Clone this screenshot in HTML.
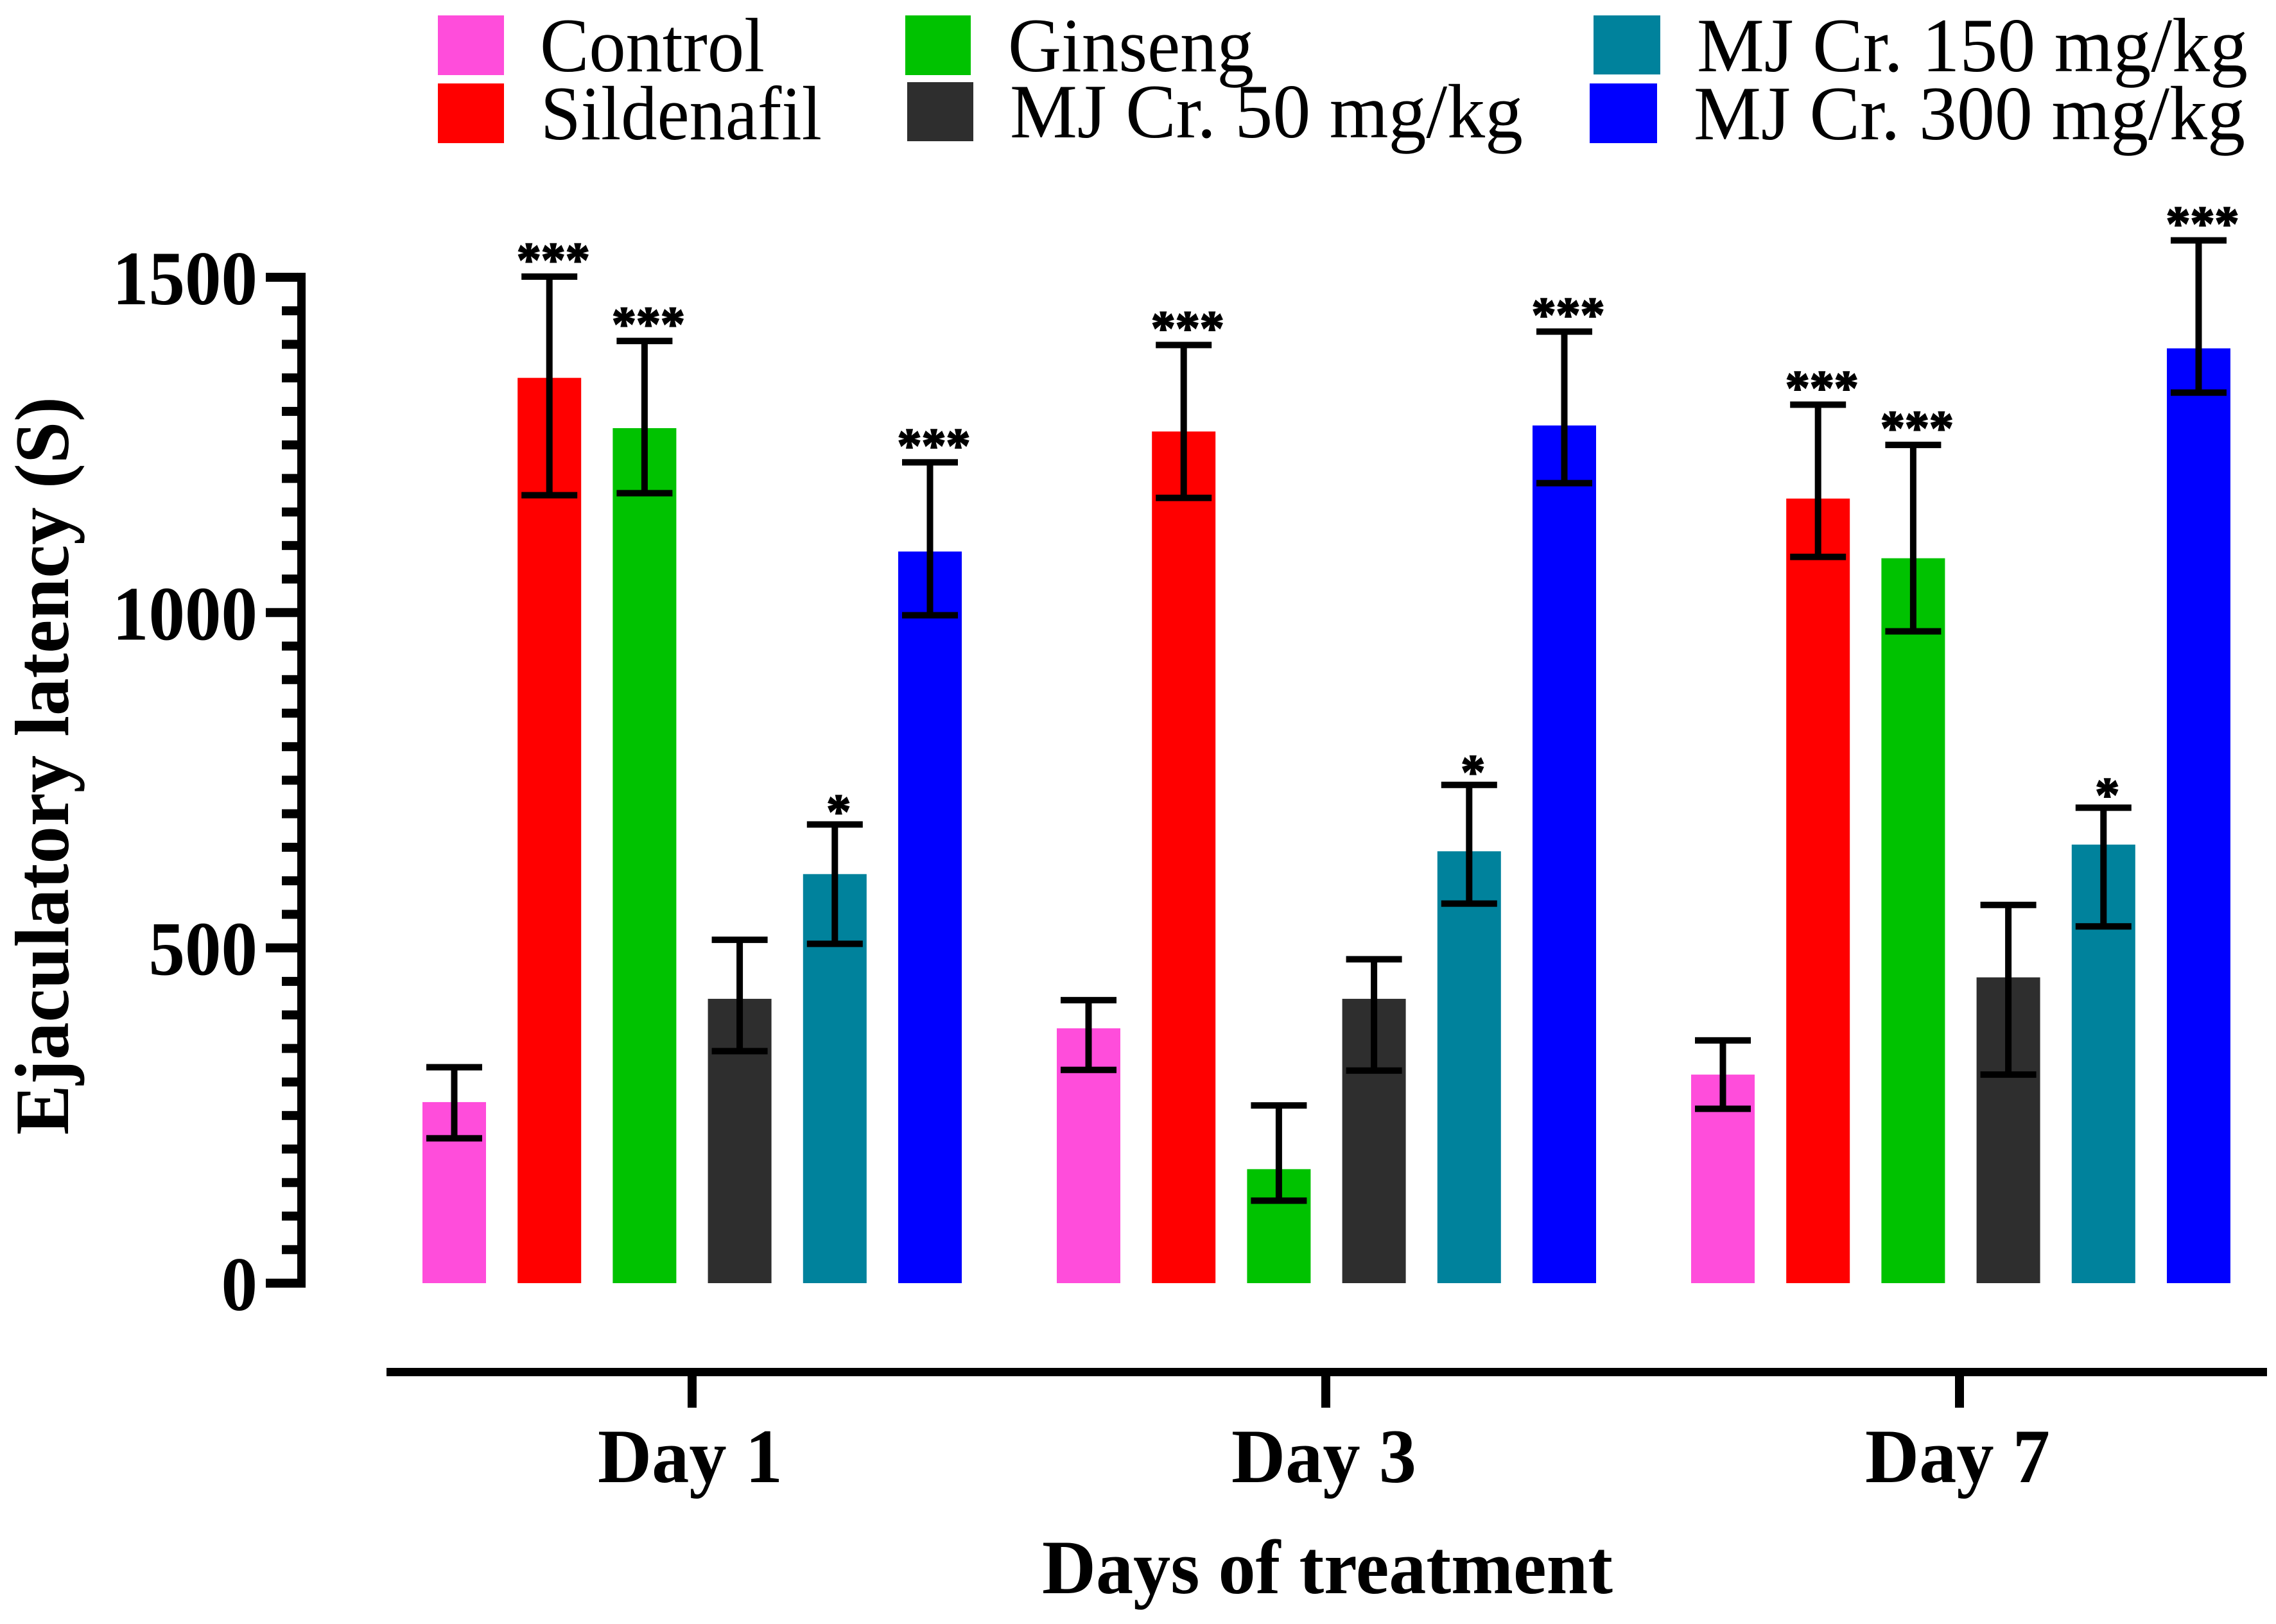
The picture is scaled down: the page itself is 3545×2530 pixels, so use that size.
<!DOCTYPE html>
<html lang="en">
<head>
<meta charset="utf-8">
<title>Ejaculatory latency by treatment day</title>
<style>
  html, body { margin: 0; padding: 0; background: #fff; }
  #chart { display: block; width: 3545px; height: 2530px; }
  text { font-family: "Liberation Serif", "Times New Roman", serif; fill: #000; }
  .bold { font-weight: 700; }
</style>
</head>
<body>
<svg id="chart" xmlns="http://www.w3.org/2000/svg" width="3545" height="2530" viewBox="0 0 3545 2530">
  <rect x="0" y="0" width="3545" height="2530" fill="#ffffff"/>

  <g>
    <g>
      <rect x="682" y="24" width="103" height="93" fill="#FF4DDB"/>
      <text x="841" y="111" font-size="120" textLength="350" lengthAdjust="spacingAndGlyphs">Control</text>
    </g>
    <g>
      <rect x="682" y="130" width="103" height="93" fill="#FF0000"/>
      <text x="842" y="217" font-size="120" textLength="438" lengthAdjust="spacingAndGlyphs">Sildenafil</text>
    </g>
    <g>
      <rect x="1410" y="24" width="102" height="93" fill="#00C200"/>
      <text x="1570" y="111" font-size="120" textLength="383" lengthAdjust="spacingAndGlyphs">Ginseng</text>
    </g>
    <g>
      <rect x="1413" y="128" width="103" height="92" fill="#2E2E2E"/>
      <text x="1573" y="214" font-size="120" textLength="799" lengthAdjust="spacingAndGlyphs">MJ Cr. 50 mg/kg</text>
    </g>
    <g>
      <rect x="2482" y="24" width="104" height="92" fill="#00829C"/>
      <text x="2643" y="111" font-size="120" textLength="858" lengthAdjust="spacingAndGlyphs">MJ Cr. 150 mg/kg</text>
    </g>
    <g>
      <rect x="2476" y="130" width="105" height="93" fill="#0000FF"/>
      <text x="2638" y="217" font-size="120" textLength="859" lengthAdjust="spacingAndGlyphs">MJ Cr. 300 mg/kg</text>
    </g>
  </g>

  <text class="bold" transform="translate(106 1768) rotate(-90)" x="0" y="0" font-size="120" textLength="1150" lengthAdjust="spacingAndGlyphs">Ejaculatory latency (S)</text>
  <text class="bold" x="1623" y="2482" font-size="120" textLength="889" lengthAdjust="spacingAndGlyphs">Days of treatment</text>

  <g id="bars"></g>
  <g id="errors"></g>
  <g id="stars"></g>
  <g id="yaxis"></g>
  <g id="xaxis"></g>
</svg>

<script>
const categories = ["Day 1", "Day 3", "Day 7"];
const seriesNames = ["control", "sildenafil", "ginseng", "mj-cr-50", "mj-cr-150", "mj-cr-300"];
const yTickLabels = [0, 500, 1000, 1500];

const controlValues = [270, 380, 311];
const controlHigh = [322, 422, 362];
const controlLow = [216, 318, 260];
const controlStars = ["", "", ""];

const sildenafilValues = [1350, 1270, 1170];
const sildenafilHigh = [1501, 1399, 1310];
const sildenafilLow = [1175, 1171, 1083];
const sildenafilStars = ["***", "***", "***"];

const ginsengValues = [1275, 170, 1081];
const ginsengHigh = [1405, 265, 1250];
const ginsengLow = [1178, 123, 972];
const ginsengStars = ["***", "", "***"];

const mj50Values = [424, 424, 456];
const mj50High = [512, 483, 564];
const mj50Low = [346, 317, 311];
const mj50Stars = ["", "", ""];

const mj150Values = [610, 644, 654];
const mj150High = [684, 743, 709];
const mj150Low = [506, 566, 532];
const mj150Stars = ["*", "*", "*"];

const mj300Values = [1091, 1279, 1394];
const mj300High = [1224, 1419, 1555];
const mj300Low = [996, 1193, 1328];
const mj300Stars = ["***", "***", "***"];

const seriesValues = [controlValues, sildenafilValues, ginsengValues, mj50Values, mj150Values, mj300Values];
const seriesHigh = [controlHigh, sildenafilHigh, ginsengHigh, mj50High, mj150High, mj300High];
const seriesLow = [controlLow, sildenafilLow, ginsengLow, mj50Low, mj150Low, mj300Low];
const seriesStars = [controlStars, sildenafilStars, ginsengStars, mj50Stars, mj150Stars, mj300Stars];
const seriesColors = ["#FF4DDB", "#FF0000", "#00C200", "#2E2E2E", "#00829C", "#0000FF"];

const SVG_NS = "http://www.w3.org/2000/svg";
const Y_ZERO = 1999;
const Y_PER_UNIT = 1.0447;
const GROUP_START = 1078;
const GROUP_STEP = 988;
const TICK_STEP = 987;
const BAR_STEP = 148.2;
const BAR_WIDTH = 99;
const CAP_WIDTH = 87;
const Y_MINOR_STEP = 50;
const Y_DIGIT_WIDTH = 56.5;

function yScale(v) { return Y_ZERO - v * Y_PER_UNIT; }
function groupCenter(c) { return GROUP_START + c * GROUP_STEP; }
function tickCenter(c) { return GROUP_START + c * TICK_STEP; }
function barCenter(c, s) { return groupCenter(c) + (s - 2.5) * BAR_STEP; }

function make(tag, attrs, parent) {
  const el = document.createElementNS(SVG_NS, tag);
  for (const k in attrs) el.setAttribute(k, attrs[k]);
  parent.appendChild(el);
  return el;
}

const barsLayer = document.getElementById("bars");
const errorsLayer = document.getElementById("errors");
const starsLayer = document.getElementById("stars");
const yLayer = document.getElementById("yaxis");
const xLayer = document.getElementById("xaxis");

categories.forEach(function (cat, c) {
  seriesNames.forEach(function (name, s) {
    const cx = barCenter(c, s);
    const top = yScale(seriesValues[s][c]);
    const hi = yScale(seriesHigh[s][c]);
    const lo = yScale(seriesLow[s][c]);
    const id = name + "-" + cat.toLowerCase().replace(" ", "-");

    const bar = make("rect", { x: cx - BAR_WIDTH / 2, y: top, width: BAR_WIDTH, height: yScale(0) - top, fill: seriesColors[s] }, barsLayer);
    
    

    const err = make("g", { fill: "#000" }, errorsLayer);
    
    
    make("rect", { x: cx - 5, y: hi, width: 10, height: lo - hi }, err);
    make("rect", { x: cx - CAP_WIDTH / 2, y: hi - 5, width: CAP_WIDTH, height: 10 }, err);
    make("rect", { x: cx - CAP_WIDTH / 2, y: lo - 5, width: CAP_WIDTH, height: 10 }, err);

    const mark = seriesStars[s][c];
    if (mark) {
      const star = make("text", { x: cx + 6, y: hi + (mark.length === 1 ? 5 : -1), "text-anchor": "middle", "font-size": 76, "font-weight": 700, stroke: "#000", "stroke-width": 2 }, starsLayer);
      
      
      star.textContent = mark;
    }
  });

  const tick = make("rect", { x: tickCenter(c) - 7, y: 2137, width: 14, height: 56, fill: "#000" }, xLayer);
  
  

  const label = make("text", { x: tickCenter(c) - 3, y: 2309, "text-anchor": "middle", "font-size": 120, "font-weight": 700, textLength: 288, lengthAdjust: "spacingAndGlyphs" }, xLayer);
  
  
  label.textContent = cat;
});

const xLine = make("rect", { x: 602, y: 2131, width: 2929, height: 13, fill: "#000" }, xLayer);



const yMax = yTickLabels[yTickLabels.length - 1];
const yLine = make("rect", { x: 463, y: yScale(yMax) - 7, width: 13, height: yScale(0) - yScale(yMax) + 14, fill: "#000" }, yLayer);



for (let v = 0; v <= yMax; v += Y_MINOR_STEP) {
  if (yTickLabels.indexOf(v) === -1) {
    const minor = make("rect", { x: 439, y: yScale(v) - 7, width: 25, height: 14, fill: "#000" }, yLayer);
    
    
  }
}

yTickLabels.forEach(function (v) {
  const major = make("rect", { x: 414, y: yScale(v) - 7, width: 50, height: 14, fill: "#000" }, yLayer);
  
  

  const text = String(v);
  const label = make("text", { x: 401, y: yScale(v) + 42, "text-anchor": "end", "font-size": 120, "font-weight": 700, textLength: text.length * Y_DIGIT_WIDTH, lengthAdjust: "spacingAndGlyphs" }, yLayer);
  
  
  label.textContent = text;
});
</script>
</body>
</html>
